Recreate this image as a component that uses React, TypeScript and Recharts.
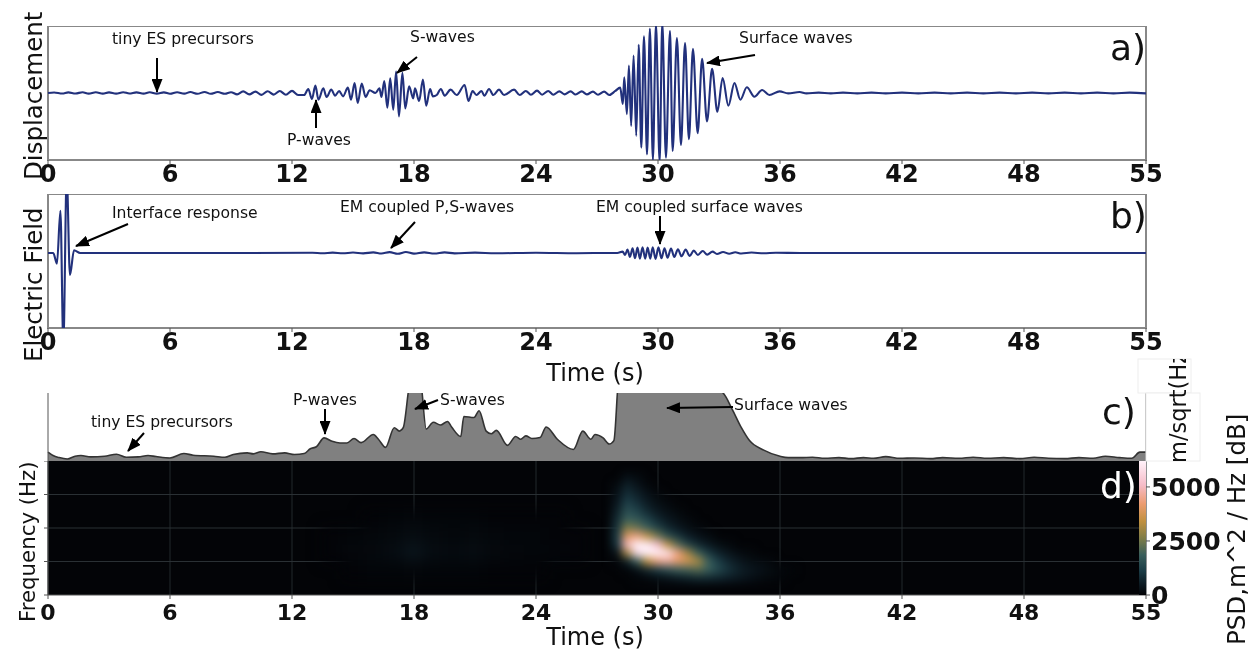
import { LineChart, Line, AreaChart, Area, ScatterChart, Scatter, BarChart, Bar, XAxis, YAxis, CartesianGrid, ReferenceArea, ReferenceLine } from "recharts";

const FONT = "DejaVu Sans, sans-serif";
const LINE = "#22317c";

// x axis: the last tick sits at 54 but is printed as 55 in the source figure
const timeTicks = [0, 6, 12, 18, 24, 30, 36, 42, 48, 54];
const timeLabels = ["0", "6", "12", "18", "24", "30", "36", "42", "48", "55"];
const freqTicks = [0, 1, 2, 3, 4];
const freqLines = [1, 2, 3];

const dispTime = [
  0, 0.3, 0.7, 1, 1.35, 1.7, 2, 2.35, 2.7, 3, 3.35, 3.7, 4, 4.35, 4.7, 5, 5.35, 5.7, 6, 6.35, 6.7, 7, 7.35, 7.7, 8, 8.35, 8.7, 9,
  9.3, 9.6, 9.9, 10.2, 10.5, 10.8, 11.1, 11.4, 11.7, 12, 12.3, 12.6, 12.8, 12.98, 13.15, 13.3, 13.54, 13.7, 13.93, 14.12, 14.32,
  14.51, 14.75, 14.9, 15.08, 15.23, 15.43, 15.62, 15.82, 16.1, 16.3, 16.4, 16.54, 16.69, 16.83, 16.98, 17.12, 17.26, 17.43, 17.57,
  17.76, 17.96, 18.05, 18.25, 18.44, 18.6, 18.79, 18.93, 19.12, 19.32, 19.51, 19.8, 20.1, 20.49, 20.68, 20.88, 21.07, 21.32, 21.46,
  21.69, 21.9, 22.18, 22.43, 22.92, 23.2, 23.5, 23.75, 24.05, 24.3, 24.6, 24.85, 25.15, 25.4, 25.7, 25.95, 26.25, 26.5, 26.8, 27.05,
  27.35, 27.6, 27.9, 28.14, 28.27, 28.34, 28.47, 28.57, 28.68, 28.8, 28.93, 29.05, 29.18, 29.31, 29.46, 29.6, 29.75, 29.9, 30.08,
  30.21, 30.39, 30.59, 30.72, 30.93, 31.13, 31.33, 31.52, 31.72, 31.95, 32.17, 32.41, 32.66, 32.92, 33.18, 33.46, 33.76, 34.05,
  34.37, 34.74, 35.12, 35.48, 35.98, 36.4, 36.96, 37.3, 37.9, 38.5, 39.1, 39.8, 40.5, 41.2, 42, 42.8, 43.6, 44.4, 45.2, 46, 46.8,
  47.6, 48.4, 49.2, 50, 50.8, 51.6, 52.4, 53.2, 54,
];
const dispValue = [
  0, 0.008, -0.008, 0.01, -0.008, 0.012, -0.01, 0.012, -0.01, 0.01, -0.01, 0.012, -0.008, 0.01, -0.01, 0.012, -0.01, 0.01, -0.012, 0.012, -0.01, 0.014, -0.012, 0.016, -0.012, 0.014, -0.012, 0.012,
  -0.02, 0.024, -0.02, 0.02, -0.028, 0.026, -0.024, 0.03, -0.026, 0.032, -0.03, -0.03, 0.06, -0.09, 0.11, -0.1, 0.07, -0.06, 0.05, -0.04, 0.03,
  -0.05, 0.08, -0.1, 0.15, -0.15, 0.14, -0.06, 0.04, 0, 0.07, -0.06, 0.18, -0.22, 0.22, -0.25, 0.32, -0.35, 0.3, -0.23,
  0.1, -0.08, 0.07, -0.12, 0.2, -0.19, 0.06, -0.05, -0.03, 0.06, -0.04, 0.05, -0.03, 0.12, -0.12, 0.03, -0.03, 0.03, -0.04,
  0.06, -0.03, 0.05, -0.03, 0.05, -0.03, 0.03, -0.025, 0.035, -0.025, 0.03, -0.025, 0.025, -0.02, 0.025, -0.022, 0.024, -0.02, 0.02, -0.025,
  0.02, -0.03, 0.03, 0.08, -0.165, 0.235, -0.315, 0.41, -0.49, 0.56, -0.64, 0.72, -0.815, 0.845, -0.915, 0.96, -1, 1.03, -1.03,
  1.05, -0.965, 0.925, -0.865, 0.82, -0.775, 0.745, -0.69, 0.66, -0.6, 0.51, -0.425, 0.36, -0.28, 0.225, -0.19, 0.15, -0.1,
  0.085, -0.055, 0.045, -0.03, 0.025, -0.006, 0.016, -0.006, 0.006, -0.005, 0.006, -0.006, 0.005, -0.005, 0.006, -0.005, 0.005, -0.006, 0.005, -0.005, 0.006, -0.005,
  0.005, -0.006, 0.006, -0.005, 0.005, -0.005, 0.006, -0.005, 0,
];

const fieldTime = [
  0, 0.26, 0.44, 0.61, 0.755, 0.92, 1.08, 1.28, 1.58, 3, 6, 10, 13, 13.5, 14, 14.5, 15, 15.5, 16, 16.4, 16.8, 17.2, 17.6, 18, 18.5, 19, 19.5, 20, 21, 22, 24, 26, 27.5, 28,
  28.26, 28.38, 28.5, 28.62, 28.75, 28.87, 28.99, 29.11, 29.24, 29.37, 29.49, 29.62, 29.74, 29.88, 30.02, 30.17, 30.32, 30.47, 30.64, 30.8, 30.98, 31.16, 31.36, 31.56, 31.76, 31.96, 32.2, 32.42, 32.68, 32.9, 33.2, 33.5, 33.8, 34.1, 34.6, 35.2, 35.8, 37, 40, 45, 50, 54,
];
const fieldValue = [
  0, 0, -0.16, 0.63, -1.35, 1.15, -0.33, 0.04, 0, 0, 0, 0, 0.003, -0.004, 0.005, -0.005, 0.006, -0.006, 0.008, -0.008, 0.012, -0.012, 0.014, -0.01, 0.008, -0.008, 0.008, -0.006, 0.005, -0.005, 0.004, -0.004, 0, 0,
  0.02, -0.03, 0.05, -0.06, 0.07, -0.08, 0.08, -0.085, 0.085, -0.085, 0.08, -0.085, 0.085, -0.09, 0.085, -0.08, 0.07, -0.07, 0.065, -0.06, 0.055, -0.05, 0.05, -0.045, 0.035, -0.03, 0.03, -0.025, 0.02, -0.015, 0.015, -0.012, 0.01, -0.008, 0.006, -0.005, 0.004, 0, 0, 0, 0, 0,
];

const levelTime = [
  0, 0.25, 0.55, 0.95, 1.33, 1.62, 2.1, 2.78, 3.37, 3.85, 4.44, 4.92, 5.31, 6.0, 6.68, 7.14, 8.15, 8.7, 9.11, 9.8, 10.1, 10.47, 11.05, 11.64, 12.12, 12.6, 12.9, 13.2, 13.58, 13.97, 14.36, 14.7, 15.05, 15.4, 16.0, 16.25, 16.6, 17.03, 17.28, 17.47, 17.85, 18.3, 18.6, 18.95, 19.3, 19.65, 19.85, 20.3, 20.45, 20.95, 21.2, 21.55, 21.8, 22.05, 22.6, 23.0, 23.25, 23.5, 23.8, 24.2, 24.5, 25.05, 25.84, 26.3, 26.7, 26.9, 27.3, 27.6, 27.83,
  28.1, 29, 31, 33.2, 33.65, 34.1, 34.5, 35.2, 36, 36.4, 37, 37.6, 38.2, 38.9, 39.5, 40.1, 40.6, 41.2, 41.9, 42.6, 43.4, 44, 44.8, 45.5, 46.2, 47, 47.8, 48.5, 49.2, 50, 50.7, 51.4, 52, 52.7, 53.3, 53.7, 54,
];
const levelValue = [
  0.13, 0.08, 0.05, 0.03, 0.07, 0.08, 0.06, 0.07, 0.1, 0.055, 0.06, 0.08, 0.065, 0.045, 0.11, 0.085, 0.07, 0.055, 0.095, 0.12, 0.105, 0.135, 0.105, 0.12, 0.095, 0.11, 0.18, 0.21, 0.34, 0.29, 0.265, 0.265, 0.33, 0.27, 0.39, 0.32, 0.2, 0.49, 0.44, 0.49, 1.2, 1.2, 0.47, 0.57, 0.53, 0.58, 0.5, 0.36, 0.655, 0.64, 0.74, 0.44, 0.4, 0.45, 0.23, 0.36, 0.32, 0.37, 0.33, 0.345, 0.5, 0.32, 0.17, 0.44, 0.32, 0.39, 0.34, 0.25, 0.3,
  1.3, 1.3, 1.3, 1.0, 0.76, 0.49, 0.3, 0.16, 0.07, 0.05, 0.05, 0.055, 0.04, 0.05, 0.035, 0.05, 0.04, 0.065, 0.04, 0.045, 0.035, 0.05, 0.04, 0.055, 0.04, 0.05, 0.035, 0.055, 0.04, 0.035, 0.05, 0.04, 0.07, 0.05, 0.04, 0.13, 0.13,
];

// spectrogram, row per frequency (top to bottom), column per time, 0..1 of the colour scale
const heatTime = [27.5, 28, 28.5, 29, 29.5, 30, 30.5, 31, 31.5, 32, 32.5, 33, 33.5, 34, 34.5, 35, 35.5, 36, 36.5, 37];
const heatFreq = [3.5, 3.25, 3, 2.75, 2.5, 2.25, 2, 1.75, 1.5, 1.25, 1, 0.75, 0.5];
const heatRows = [
  [0, 0, 0.05, 0.03],
  [0, 0.03, 0.1, 0.06, 0.02],
  [0, 0.05, 0.14, 0.1, 0.05, 0.02],
  [0, 0.07, 0.19, 0.14, 0.08, 0.04, 0.02],
  [0, 0.1, 0.24, 0.2, 0.12, 0.07, 0.04, 0.02],
  [0, 0.13, 0.3, 0.27, 0.2, 0.12, 0.07, 0.04, 0.02],
  [0, 0.16, 0.42, 0.38, 0.3, 0.2, 0.12, 0.07, 0.04, 0.02],
  [0, 0.18, 0.64, 0.7, 0.56, 0.4, 0.25, 0.16, 0.09, 0.05, 0.03],
  [0, 0.16, 0.8, 1, 0.98, 0.82, 0.55, 0.35, 0.2, 0.12, 0.07, 0.04, 0.02],
  [0, 0.06, 0.5, 0.92, 1, 1, 0.94, 0.7, 0.48, 0.3, 0.17, 0.1, 0.06, 0.03, 0.02],
  [0, 0.01, 0.1, 0.3, 0.55, 0.7, 0.74, 0.66, 0.6, 0.5, 0.3, 0.18, 0.11, 0.07, 0.04, 0.03, 0.02],
  [0, 0, 0.01, 0.05, 0.12, 0.18, 0.24, 0.3, 0.32, 0.35, 0.3, 0.22, 0.15, 0.1, 0.07, 0.05, 0.03, 0.02, 0.01],
  [0, 0, 0, 0.01, 0.02, 0.04, 0.06, 0.08, 0.1, 0.12, 0.12, 0.11, 0.09, 0.07, 0.05, 0.03, 0.02, 0.01],
];
// the faint smear under the P and S arrivals
const smearTime = [14, 15, 16, 17, 18, 19, 20, 21, 22, 23, 24, 25, 26];
const smearFreq = [2.25, 1.75, 1.25, 0.75];
const smearRows = [
  [0, 0, 0.005, 0.01, 0.015, 0.01, 0.01, 0.01, 0.005, 0.005, 0.005, 0.005, 0],
  [0.005, 0.01, 0.015, 0.02, 0.03, 0.02, 0.015, 0.02, 0.015, 0.01, 0.01, 0.005, 0.005],
  [0.005, 0.015, 0.02, 0.03, 0.06, 0.03, 0.025, 0.03, 0.02, 0.015, 0.01, 0.01, 0.005],
  [0, 0.005, 0.01, 0.01, 0.015, 0.01, 0.01, 0.01, 0.005, 0.005, 0.005, 0, 0],
];

const scaleStops = [0, 0.08, 0.18, 0.3, 0.42, 0.55, 0.68, 0.82, 1];
const scaleColors = ["#020306", "#0c1a22", "#1b3c46", "#3a5f5c", "#7d7c48", "#c0903f", "#ec9c70", "#f6bcc8", "#fff2fa"];

const psdTicks = [0, 2500, 5000];

const annotations = [
  { text: "tiny ES precursors", x: 112, y: 44 },
  { text: "S-waves", x: 410, y: 42 },
  { text: "P-waves", x: 287, y: 145 },
  { text: "Surface waves", x: 739, y: 43 },
  { text: "Interface response", x: 112, y: 218 },
  { text: "EM coupled P,S-waves", x: 340, y: 212 },
  { text: "EM coupled surface waves", x: 596, y: 212 },
  { text: "tiny ES precursors", x: 91, y: 427 },
  { text: "P-waves", x: 293, y: 405 },
  { text: "S-waves", x: 440, y: 405 },
  { text: "Surface waves", x: 734, y: 410 },
];
const arrows = [
  [157, 58, 157, 92],
  [417, 57, 397, 73],
  [316, 128, 316, 100],
  [755, 55, 707, 63],
  [128, 224, 76, 246],
  [415, 222, 391, 248],
  [660, 216, 660, 244],
  [144, 433, 128, 451],
  [325, 409, 325, 434],
  [438, 400, 415, 409],
  [733, 407, 667, 408],
];

const zip = (xs: number[], ys: number[]) => xs.map((t, i) => ({ t, v: ys[i] }));
const cells = (times: number[], freqs: number[], rows: number[][]) =>
  rows.flatMap((row, r) => row.map((v, c) => ({ t: times[c], f: freqs[r], v }))).filter((d) => d.v > 0);

function heatColor(v: number) {
  let i = 0;
  while (i < scaleStops.length - 2 && v > scaleStops[i + 1]) i++;
  const k = (v - scaleStops[i]) / (scaleStops[i + 1] - scaleStops[i]);
  const hex = (s: string, p: number) => parseInt(s.slice(p, p + 2), 16);
  const mix = (p: number) => Math.round(hex(scaleColors[i], p) * (1 - k) + hex(scaleColors[i + 1], p) * k);
  return `rgb(${mix(1)},${mix(3)},${mix(5)})`;
}

const W = 1255;
const LEFT = 48;
const PLOT_W = 1098;
const PX_PER_S = PLOT_W / 54;
const tickFont = (size: number) => ({ fontFamily: FONT, fontWeight: 700, fontSize: size, fill: "#111" });
const formatTime = (t: number) => timeLabels[timeTicks.indexOf(t)];

function Trace({ data, top, domain }: { data: { t: number; v: number }[]; top: number; domain: number[] }) {
  return (
    <LineChart width={W} height={174} data={data} margin={{ top: 0, right: W - LEFT - PLOT_W, left: LEFT, bottom: 0 }} style={{ position: "absolute", left: 0, top }}>
      <XAxis dataKey="t" type="number" domain={[0, 54]} ticks={timeTicks} interval={0} tickFormatter={formatTime} tick={tickFont(24)} tickSize={4} tickMargin={1} height={40} stroke="#555" axisLine={false} />
      <YAxis hide domain={domain} allowDataOverflow />
      <Line dataKey="v" type="monotone" stroke={LINE} strokeWidth={2.1} dot={false} isAnimationActive={false} />
      <ReferenceArea x1={0} x2={54} y1={domain[0]} y2={domain[1]} fill="none" stroke="#888" strokeWidth={2} />
    </LineChart>
  );
}

function Spectrogram() {
  const big = cells(heatTime, heatFreq, heatRows);
  const faint = cells(smearTime, smearFreq, smearRows);
  const cellShape = (w: number, h: number) => (p: any) => <rect x={p.cx - w / 2} y={p.cy - h / 2} width={w} height={h} fill={heatColor(p.payload.v)} />;
  return (
    <ScatterChart width={W} height={179} margin={{ top: 0, right: W - LEFT - PLOT_W, left: LEFT - 6, bottom: 0 }} style={{ position: "absolute", left: 0, top: 461 }}>
      <style>{`.heat-main { filter: blur(4px); } .heat-faint { filter: blur(7px); }`}</style>
      <CartesianGrid fill="#030407" stroke="#22282c" strokeWidth={1} horizontal={false} verticalValues={timeTicks} />
      <XAxis dataKey="t" type="number" domain={[0, 54]} ticks={timeTicks} interval={0} tickFormatter={formatTime} tick={tickFont(22)} tickSize={4} tickMargin={5} height={45} stroke="#555" />
      <YAxis dataKey="f" type="number" domain={[0, 4]} ticks={freqTicks} tickFormatter={() => ""} width={6} tickSize={4} tickMargin={0} stroke="#555" />
      <Scatter className="heat-faint" data={faint} isAnimationActive={false} shape={cellShape(PX_PER_S * 1.1, 19)} />
      <Scatter className="heat-main" data={big} isAnimationActive={false} shape={cellShape(PX_PER_S * 0.55, 9)} />
      {freqLines.map((f) => (
        <ReferenceLine key={f} y={f} stroke="#2a3034" strokeWidth={1} />
      ))}
    </ScatterChart>
  );
}

function ColorBar() {
  return (
    <BarChart width={100} height={165} data={[{ name: "psd", v: 6200 }]} barCategoryGap={0} margin={{ top: 5, right: 0, left: 0, bottom: 26 }} style={{ position: "absolute", left: 1139, top: 456 }}>
      <defs>
        <linearGradient id="psdScale" x1="0" y1="1" x2="0" y2="0">
          {scaleStops.map((s, i) => (
            <stop key={s} offset={s} stopColor={scaleColors[i]} />
          ))}
        </linearGradient>
      </defs>
      <XAxis dataKey="name" hide />
      <YAxis orientation="right" type="number" domain={[0, 6200]} ticks={psdTicks} interval={0} width={93} tick={tickFont(25)} tickSize={4} tickMargin={1} stroke="#555" axisLine={false} />
      <Bar dataKey="v" fill="url(#psdScale)" isAnimationActive={false} />
    </BarChart>
  );
}

function Overlay() {
  const label = { fontFamily: FONT, fill: "#111" };
  const sideText = (text: string, x: number, y: number, size: number) => (
    <text transform={`translate(${x},${y}) rotate(-90)`} {...label} fontSize={size}>
      {text}
    </text>
  );
  return (
    <svg width={W} height={651} style={{ position: "absolute", left: 0, top: 0, pointerEvents: "none" }}>
      <defs>
        <marker id="head" viewBox="0 0 14 11" refX="13" refY="5.5" markerWidth="14" markerHeight="11" markerUnits="userSpaceOnUse" orient="auto">
          <path d="M0 0 L14 5.5 L0 11 Z" fill="#000" />
        </marker>
        <clipPath id="sqrtClip">
          <rect x={1140} y={359} width={70} height={110} />
        </clipPath>
      </defs>
      <rect x={1138} y={359} width={53} height={34} fill="#fff" stroke="#eee" />
      <rect x={1146} y={393} width={54} height={68} fill="#fff" stroke="#eee" />
      <g clipPath="url(#sqrtClip)">{sideText("m/sqrt(Hz)", 1186, 463, 22.5)}</g>
      {annotations.map((a) => (
        <text key={a.text + a.x} x={a.x} y={a.y} {...label} fontSize={15.6}>
          {a.text}
        </text>
      ))}
      {arrows.map(([x1, y1, x2, y2]) => (
        <line key={`${x1}-${y1}`} x1={x1} y1={y1} x2={x2} y2={y2} stroke="#000" strokeWidth={2} markerEnd="url(#head)" />
      ))}
      {sideText("Displacement", 42, 180, 24.5)}
      {sideText("Electric Field", 42, 362, 24.4)}
      {sideText("Frequency (Hz)", 35, 622, 21.3)}
      {sideText("PSD,m^2 / Hz [dB]", 1245, 645, 24.5)}
      <text x={595} y={381} textAnchor="middle" {...label} fontSize={24}>Time (s)</text>
      <text x={595} y={645} textAnchor="middle" {...label} fontSize={24}>Time (s)</text>
      <text x={1110} y={60} {...label} fontSize={36}>a)</text>
      <text x={1110} y={228} {...label} fontSize={36}>b)</text>
      <text x={1102} y={424} {...label} fontSize={36}>c)</text>
      <text x={1100} y={498} {...label} fontSize={36} fill="#fff">d)</text>
    </svg>
  );
}

export default function App() {
  return (
    <div style={{ position: "absolute", left: 0, top: 0, width: W, height: 651, background: "#fff", overflow: "hidden", filter: "blur(0.5px)" }}>
      <Trace data={zip(dispTime, dispValue)} top={26} domain={[-1, 1]} />
      <Trace data={zip(fieldTime, fieldValue)} top={194} domain={[-1.12, 0.88]} />
      <AreaChart width={W} height={68} data={zip(levelTime, levelValue)} margin={{ top: 0, right: W - LEFT - PLOT_W, left: LEFT, bottom: 0 }} style={{ position: "absolute", left: 0, top: 393 }}>
        <XAxis dataKey="t" type="number" domain={[0, 54]} hide />
        <YAxis hide domain={[0, 1]} allowDataOverflow />
        <Area dataKey="v" type="monotone" stroke="#333" strokeWidth={1.6} fill="#808080" fillOpacity={1} isAnimationActive={false} />
        <ReferenceLine x={0} stroke="#555" />
        <ReferenceLine x={54} stroke="#555" />
      </AreaChart>
      <Spectrogram />
      <ColorBar />
      <Overlay />
    </div>
  );
}
